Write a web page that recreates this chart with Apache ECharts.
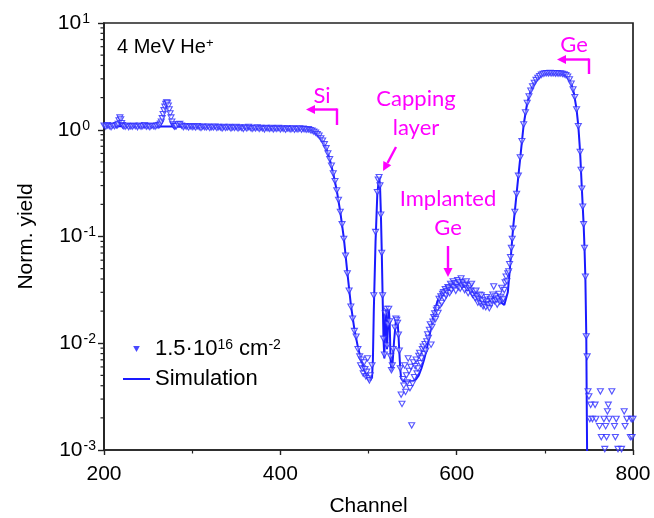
<!DOCTYPE html>
<html><head><meta charset="utf-8">
<script src="https://cdn.jsdelivr.net/npm/echarts@6/dist/echarts.min.js"></script>
<style>html,body{margin:0;padding:0;background:#fff}#c{width:654px;height:518px}</style>
</head><body><div id="c"></div>
<script>
// ---- data: [channel, normalized yield] ----
const xTickValues = [200, 400, 600, 800];
const yMinorTicks = [0.002,0.003,0.004,0.005,0.006,0.007,0.008,0.009,
  0.02,0.03,0.04,0.05,0.06,0.07,0.08,0.09,
  0.2,0.3,0.4,0.5,0.6,0.7,0.8,0.9,
  2,3,4,5,6,7,8,9];

const measPlateau = [[200,1.09],[202,1.07],[204,1.10],[206,1.08],[208,1.06],[210,1.09],[212,1.08],[214,1.10],
  [215,1.10],[216,1.13],[217,1.22],[218,1.30],[219,1.25],[220,1.15],[221,1.10],[222,1.08],
  [224,1.07],[226,1.09],[228,1.06],[230,1.08],[232,1.07],[234,1.09],[236,1.08],[238,1.06],[240,1.09],[242,1.07],
  [244,1.08],[246,1.10],[248,1.07],[250,1.08],[252,1.06],[254,1.09],[256,1.08],[258,1.07],[260,1.09],
  [262,1.10],[263,1.11],[264,1.14],[265,1.19],[266,1.28],[267,1.40],[268,1.52],[269,1.64],[270,1.74],[271,1.80],
  [272,1.78],[273,1.68],[274,1.55],[275,1.42],[276,1.30],[277,1.19],[278,1.12],[279,1.09],[280,1.07],[281,1.08],[282,1.08],
  [284,1.12],[286,1.13],[288,1.09],[290,1.06],[292,1.08],[294,1.07],[296,1.05],[298,1.08],
  [300,1.06],[302,1.07],[304,1.05],[306,1.08],[308,1.06],[310,1.04],[312,1.07],[314,1.06],[316,1.05],[318,1.07],
  [320,1.04],[322,1.06],[324,1.05],[326,1.07],[328,1.04],[330,1.06],[332,1.05],[334,1.03],[336,1.06],[338,1.04],
  [340,1.05],[342,1.06],[344,1.03],[346,1.05],[348,1.04],[350,1.06],[352,1.03],[354,1.05],[356,1.04],[358,1.02],
  [360,1.05],[362,1.03],[364,1.06],[366,1.04],[368,1.02],[370,1.04],[372,1.03],[374,1.05],[376,1.02],[378,1.04],
  [380,1.03],[382,1.01],[384,1.04],[386,1.03],[388,1.02],[390,1.04],[392,1.01],[394,1.03],[396,1.02],[398,1.04],
  [400,1.01],[402,1.03],[404,1.02],[406,1.00],[408,1.03],[410,1.02],[412,1.01],[414,1.03],[416,1.00],[418,1.02],
  [420,1.01],[422,1.03],[424,1.00],[426,1.02],[428,1.01],[430,1.00],[432,1.01],[434,0.99],[436,0.98]];
const measSiEdge = [[438,0.96],[440,0.94],[442,0.91],[444,0.88],[446,0.83],[448,0.79],[450,0.73],[452,0.67],
  [454,0.60],[456,0.53],[458,0.46],[460,0.39],[462,0.33],[464,0.27],[466,0.22],[468,0.17],[470,0.13],[472,0.095],
  [474,0.066],[476,0.045],[478,0.031],[480,0.022],[482,0.017],[484,0.013],[486,0.0115],[488,0.0088],[490,0.0075],
  [491,0.0062],[492,0.0070],[493,0.0058],[494,0.0052],[495,0.0066],[496,0.0057],[497,0.0049],[498,0.0054],
  [499,0.0072],[500,0.0047],[501,0.0045],[502,0.0050],[504,0.0062]];
const measCapping = [[506,0.028],[508,0.11],[510,0.26],[511,0.34],[512,0.36],[513,0.30],[514,0.16],[515,0.07],
  [516,0.028],[517,0.011],[518,0.0078],[519,0.019],[520,0.021],[521,0.0095],[522,0.015],[523,0.021],[524,0.016],
  [525,0.0075],[526,0.0056],[527,0.0062],[528,0.0088],[530,0.014],[531,0.017],[532,0.0165],[533,0.0155],
  [534,0.012],[535,0.0085],[536,0.0058]];
const measDip = [[537,0.0033],[538,0.0027],[539,0.0046],[540,0.0040],[541,0.0062],[542,0.0035],[543,0.0050],
  [544,0.0043],[545,0.0072],[546,0.0055],[547,0.0038],[548,0.0060],[549,0.0017],[550,0.0042],[551,0.0066],
  [552,0.0048],[553,0.0061],[554,0.0070],[555,0.0052],[556,0.0058],[557,0.0076],[558,0.0081],[559,0.0065],
  [560,0.0072],[561,0.0088],[562,0.0093],[563,0.0079],[564,0.0098],[565,0.0085]];
const measImplanted = [[566,0.0104],[567,0.0121],[568,0.0112],[569,0.0133],[570,0.0150],[571,0.0097],[572,0.0142],
  [573,0.0159],[574,0.0175],[575,0.019],[576,0.0168],[577,0.0205],[578,0.0213],[579,0.0192],[580,0.026],
  [581,0.0225],[582,0.0275],[583,0.0238],[584,0.029],[585,0.030],[586,0.0262],[587,0.032],[588,0.028],
  [589,0.0305],[590,0.0335],[591,0.033],[592,0.0295],[593,0.036],[594,0.0315],[595,0.0345],[596,0.038],
  [597,0.0335],[598,0.0365],[599,0.031],[600,0.0355],[601,0.039],[602,0.0335],[603,0.0375],[604,0.0325],
  [605,0.0405],[606,0.0345],[607,0.037],[608,0.036],[609,0.0315],[610,0.035],[611,0.038],[612,0.0325],
  [613,0.0295],[614,0.033],[615,0.0345],[616,0.031],[617,0.036],[618,0.0285],[619,0.028],[620,0.0305],
  [621,0.0265],[622,0.031],[623,0.0275],[624,0.024],[625,0.026],[626,0.0285],[627,0.0235],[628,0.028],
  [629,0.025],[630,0.0222],[631,0.0231],[632,0.0255],[633,0.0218],[634,0.027],[635,0.0245],[636,0.0228],
  [637,0.0213],[638,0.026],[639,0.0232],[640,0.025],[641,0.0285],[642,0.034],[643,0.0248],[644,0.0275],
  [645,0.0255],[646,0.023],[647,0.0262],[648,0.029],[649,0.0245],[650,0.0272],[651,0.033],[652,0.0255],
  [653,0.026],[654,0.0315],[655,0.037],[656,0.042],[657,0.038]];
const measGePeak = [[658,0.045],[659,0.047],[660,0.055],[661,0.064],[662,0.078],[663,0.095],[664,0.118],[666,0.17],
  [668,0.25],[670,0.37],[672,0.55],[674,0.78],[676,1.12],[678,1.45],[680,1.78],[682,2.05],[684,2.32],[686,2.55],
  [688,2.75],[690,2.92],[692,3.06],[694,3.18],[696,3.27],[698,3.33],[700,3.37],[702,3.39],[704,3.38],[706,3.40],
  [708,3.37],[710,3.39],[712,3.36],[714,3.38],[716,3.35],[718,3.37],[720,3.33],[722,3.30],[724,3.24],[726,3.14],
  [728,2.96],[730,2.70],[732,2.38],[734,2.02],[736,1.55],[738,1.08],[740,0.62],[741,0.42],[742,0.28],[743,0.19],
  [744,0.13],[745,0.078],[746,0.042],[747,0.0116],[748,0.0075]];
const measTail = [[749,0.00354],[750,0.00318],[751,0.00195],[752,0.00265],[754,0.00195],[757,0.00265],[758,0.00195],
  [762,0.00167],[763,0.00354],[764,0.00132],[767,0.00195],[768,0.00102],[769,0.00167],[770,0.00132],[771,0.0023],
  [772,0.00265],[773,0.00195],[776,0.00354],[779,0.00167],[780,0.00132],[781,0.00195],[783,0.00102],[787,0.00102],
  [790,0.0023],[791,0.00167],[793,0.00195],[797,0.00132],[798,0.00195],[799,0.00132],[800,0.00195]];

const simPlateau = [[200,1.08],[220,1.08],[240,1.075],[260,1.07],[280,1.07],[300,1.06],[320,1.055],[340,1.05],
  [360,1.04],[380,1.03],[400,1.025],[420,1.015],[430,1.01],[436,0.99]];
const simSiEdge = [[440,0.95],[444,0.88],[448,0.79],[452,0.67],[456,0.53],[460,0.39],[464,0.27],[468,0.17],
  [472,0.097],[476,0.046],[480,0.023],[484,0.0135],[488,0.0092],[492,0.0068],[496,0.0054],[499,0.0047],
  [502,0.0045],[504,0.0048]];
const simCapping = [[505,0.007],[506,0.02],[508,0.09],[510,0.25],[512,0.36],[513,0.31],[514,0.17],[515,0.075],
  [516,0.028],[517,0.011],[518,0.0072],[519,0.018],[520,0.021],[521,0.0088],[522,0.014],[523,0.021],[524,0.016],
  [525,0.0072],[526,0.0055],[527,0.006],[529,0.0105],[531,0.016],[532,0.017],[533,0.0158],[534,0.012],
  [535,0.0082],[536,0.0058],[537,0.0047]];
const simImplanted = [[540,0.0044],[545,0.0044],[550,0.0044],[554,0.0046],[557,0.0050],[560,0.0058],[563,0.0070],
  [566,0.0088],[569,0.0115],[572,0.0155],[575,0.0200],[578,0.0245],[581,0.028],[585,0.0315],[590,0.0338],
  [595,0.0348],[600,0.035],[605,0.0349],[610,0.0342],[615,0.0325],[619,0.030],[623,0.027],[627,0.0248],
  [631,0.0238],[635,0.0243],[639,0.0257],[643,0.0266],[647,0.0258],[651,0.0238],[654,0.0228],[656,0.0235]];
const simGePeak = [[658,0.030],[660,0.046],[662,0.074],[664,0.12],[667,0.21],[670,0.37],[673,0.64],[676,1.12],
  [680,1.78],[684,2.32],[688,2.75],[692,3.06],[696,3.27],[700,3.37],[705,3.39],[710,3.38],[715,3.37],[720,3.33],
  [724,3.24],[727,3.05],[730,2.70],[733,2.20],[736,1.55],[738,1.08],[740,0.62],[742,0.28],[744,0.13],[745,0.078],
  [746,0.04],[747,0.012],[747.5,0.003],[748,0.0008]];

const measData = [].concat(measPlateau, measSiEdge, measCapping, measDip, measImplanted, measGePeak, measTail);
const simData = [].concat(simPlateau, simSiEdge, simCapping, simImplanted, simGePeak);

const measName = 'meas';
const simName = 'Simulation';

// ---- chart ----
const AX = "'Liberation Sans', Arial, sans-serif";
const ANN = "Lato, 'Open Sans', sans-serif";
const MAG = '#ff00ff';
const BLUE = '#1a1aff';
const chart = echarts.init(document.getElementById('c'), null, {renderer: 'canvas'});
const G = {left: 104, top: 23, right: 21, bottom: 68};
const TRI = 'path://M0,0L10,0L5,9Z';

const option = {
  animation: false,
  grid: {left: G.left, top: G.top, right: G.right, bottom: G.bottom, containLabel: false, outerBoundsMode: 'none',
    show: true, borderColor: '#222', borderWidth: 1.7, backgroundColor: 'transparent'},
  xAxis: {
    type: 'value', min: 200, max: 800, interval: 200,
    name: 'Channel', nameLocation: 'middle', nameGap: 46,
    nameTextStyle: {fontFamily: AX, fontSize: 21, color: '#000'},
    axisLine: {onZero: false, lineStyle: {color: '#222', width: 1.7}},
    axisTick: {show: true, length: 5, lineStyle: {color: '#222', width: 1.4}},
    minorTick: {show: true, splitNumber: 2, length: 3.5, lineStyle: {color: '#222', width: 1.2}},
    splitLine: {show: false},
    axisLabel: {fontFamily: AX, fontSize: 21, color: '#000', margin: 14,
      formatter: v => xTickValues.includes(v) ? String(v) : ''}
  },
  yAxis: {
    type: 'log', logBase: 10, min: 0.001, max: 10,
    name: 'Norm. yield', nameLocation: 'middle', nameGap: 67, nameRotate: 90,
    nameTextStyle: {fontFamily: AX, fontSize: 21, color: '#000'},
    axisLine: {onZero: false, lineStyle: {color: '#222', width: 1.7}},
    axisTick: {show: true, length: 6, lineStyle: {color: '#222', width: 1.4}},
    splitLine: {show: false},
    axisLabel: {margin: 8, color: '#000',
      formatter: v => {
        const e = Math.round(Math.log10(v));
        return '{b|10}{' + (e < 0 ? 's' : 'sp') + '|' + e + '}';
      },
      rich: {
        b: {fontFamily: AX, fontSize: 21, color: '#000'},
        s: {fontFamily: AX, fontSize: 14, color: '#000', verticalAlign: 'top', padding: [0, 0, 8, 1]},
        sp: {fontFamily: AX, fontSize: 14, color: '#000', verticalAlign: 'top', padding: [0, 6, 8, 1]}
      }
    }
  },
  legend: {
    orient: 'vertical', left: 118, top: 333, itemGap: 8, itemWidth: 27, itemHeight: 6,
    data: [
      {name: measName, icon: TRI, itemStyle: {color: BLUE, borderWidth: 0}},
      {name: simName, icon: 'path://M0,0L27,0L27,2L0,2Z', itemStyle: {color: BLUE, borderWidth: 0}}
    ],
    formatter: n => n === measName ? '{n|1.5·10}{s|16}{n| cm}{s|-2}' : '{n|Simulation}',
    textStyle: {fontFamily: AX, fontSize: 22, color: '#000',
      rich: {
        n: {fontFamily: AX, fontSize: 22, color: '#000'},
        s: {fontFamily: AX, fontSize: 14, color: '#000', verticalAlign: 'top', padding: [0, 0, 8, 0]}
      }
    }
  },
  series: [
    {
      name: simName, type: 'line', data: simData,
      showSymbol: false, symbol: 'none', lineStyle: {color: BLUE, width: 2}, itemStyle: {color: BLUE}, z: 2, clip: true
    },
    {
      name: measName, type: 'scatter', data: measData,
      symbol: TRI, symbolSize: [6, 5.4],
      itemStyle: {color: 'rgba(255,255,255,0.55)', borderColor: '#2a2aff', borderWidth: 1.1}, z: 3, clip: true
    }
  ]
};
chart.setOption(option);

// ---- annotations (pixel layout) and log minor ticks via the axis scale ----
function arrowHead(tx, ty, dx, dy, len, half) {
  const n = Math.hypot(dx, dy); dx /= n; dy /= n;
  const bx = tx - dx * len, by = ty - dy * len;
  return {type: 'polygon', shape: {points: [[tx, ty], [bx - dy * half, by + dx * half], [bx + dy * half, by - dx * half]]}, style: {fill: MAG}};
}
function seg(x1, y1, x2, y2) {
  return {type: 'line', shape: {x1, y1, x2, y2}, style: {stroke: MAG, lineWidth: 2.4}};
}
function label(text, cx, cy) {
  return {type: 'text', x: cx, y: cy, style: {text, fill: MAG, font: '22px ' + ANN, align: 'center', verticalAlign: 'middle'}};
}
const graphics = [
  {type: 'text', x: 117, y: 47, style: {text: '{n|4 MeV He}{s|+}', verticalAlign: 'middle',
    rich: {n: {fontFamily: AX, fontSize: 20, fill: '#000'}, s: {fontFamily: AX, fontSize: 13, fill: '#000', verticalAlign: 'top', padding: [0,0,8,0]}}}},
  label('Si', 322, 96), seg(313, 109.5, 337, 109.5), seg(337, 108.5, 337, 125), arrowHead(306, 109.5, -1, 0, 9, 4.5),
  label('Capping', 416, 99), label('layer', 416, 128), seg(396, 147, 387.5, 163), arrowHead(383, 171, -13, 24, 9, 4.5),
  label('Implanted', 448, 199), label('Ge', 448, 228), seg(448, 246, 448, 268), arrowHead(448, 277, 0, 1, 9, 4.5),
  label('Ge', 574, 45), seg(565, 59.5, 589, 59.5), seg(589, 58.5, 589, 74), arrowHead(557, 59.5, -1, 0, 9, 4.5)
];
const x0 = chart.convertToPixel({xAxisIndex: 0}, 200);
yMinorTicks.forEach(v => {
  const py = chart.convertToPixel({yAxisIndex: 0}, v);
  graphics.push({type: 'line', shape: {x1: x0 - 3.5, y1: py, x2: x0, y2: py}, style: {stroke: '#222', lineWidth: 1.2}});
});
chart.setOption({graphic: graphics});
</script>
</body></html>
